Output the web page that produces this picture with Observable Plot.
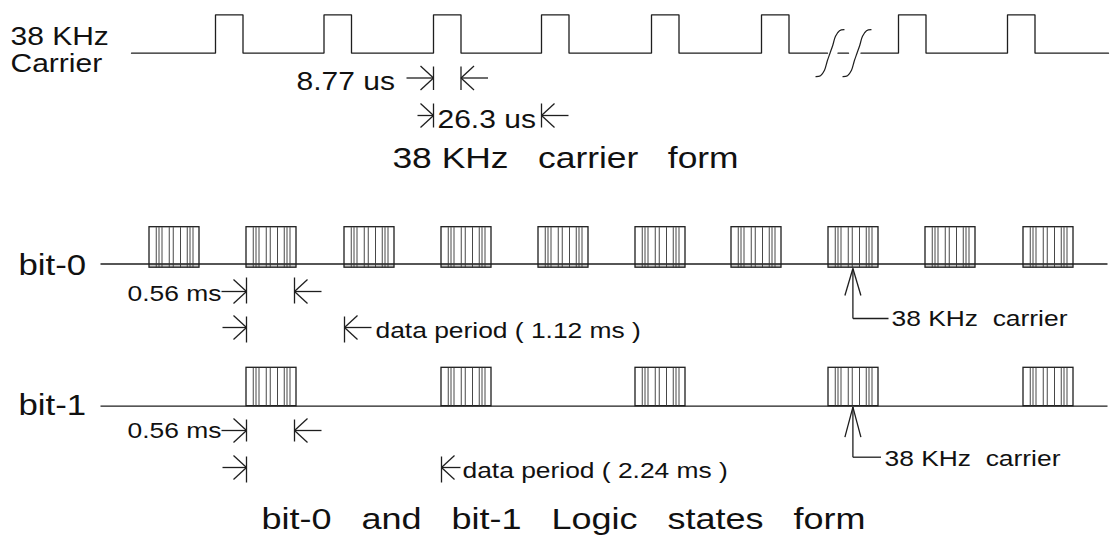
<!DOCTYPE html>
<html><head><meta charset="utf-8">
<script src="https://cdn.jsdelivr.net/npm/d3@7"></script>
<script src="https://cdn.jsdelivr.net/npm/@observablehq/plot@0.6"></script>
<style>html,body{margin:0;padding:0;background:#fff}</style>
</head><body><div id="chart"></div>
<script>
// ---------------- data (diagram time units) ----------------
const carrierRises = [215, 323.5, 433, 541, 651, 761, 898, 1007];
const carrierPulse = 27.5;                 // drawn high time (8.77 us)
const carrierSpan = [131, 1108];
const carrierBreaks = [829.5, 856.5];
const bit0Bursts = [149, 246, 344, 441, 538, 635, 731, 828, 925, 1023];
const bit1Bursts = [246, 441, 635, 828, 1023];
const burstLen = 50;                        // drawn 0.56 ms burst
const burstStripes = [0.135, 0.19, 0.25, 0.395, 0.475, 0.62, 0.755, 0.81, 0.87];
const rowSpan = [100, 1107];
const rowLabels = ["38 KHz", "Carrier"];
const bitLabels = ["bit-0", "bit-1"];
const dimLabels = ["8.77 us", "26.3 us", "0.56 ms", "data period ( 1.12 ms )", "0.56 ms", "data period ( 2.24 ms )"];
const noteLabels = ["38 KHz  carrier", "38 KHz  carrier"];
const titleTop = "38 KHz   carrier   form";
const titleBottom = "bit-0   and   bit-1   Logic   states   form";

// ---------------- layout ----------------
const ink = "#1e1e1e", SW = 1.3, FONT = "Liberation Sans, Arial, Helvetica, sans-serif";
const cLow = 52.7, cHigh = 14.3;
const r0 = {base: 263.5, top: 226.7, bottom: 267.2};
const r1 = {base: 405.7, top: 367.3, bottom: 405.7};

// carrier waveform, split around the break mark
const segs = [[carrierSpan[0], carrierBreaks[0] - 2.5], [carrierBreaks[0] + 8, carrierBreaks[1] - 8.5], [carrierBreaks[1] + 4, carrierSpan[1]]];
const wave = [];
segs.forEach(([a, b], k) => {
  wave.push({x: a, y: cLow, k});
  carrierRises.filter(r => r > a && r + carrierPulse < b).forEach(r => {
    wave.push({x: r, y: cLow, k}, {x: r, y: cHigh, k}, {x: r + carrierPulse, y: cHigh, k}, {x: r + carrierPulse, y: cLow, k});
  });
  wave.push({x: b, y: cLow, k});
});
// break "S" marks
const sShape = [[-14, 23.5], [-9.5, 22.5], [-5.5, 17], [-2.8, 8], [0, 0], [2.8, -8], [5.5, -17], [9.5, -22.5], [14, -23.5]];
const breaks = carrierBreaks.flatMap((c, k) => sShape.map(([dx, dy]) => ({x: c + dx, y: cLow + dy, k})));

// bursts
const bursts = [
  ...bit0Bursts.map(s => ({x1: s, x2: s + burstLen, y1: r0.top, y2: r0.bottom, base: r0.base})),
  ...bit1Bursts.map(s => ({x1: s, x2: s + burstLen, y1: r1.top, y2: r1.bottom, base: r1.base}))
];
const stripes = bursts.flatMap(b => burstStripes.map(f => ({x: b.x1 + f * burstLen, y1: b.y1, y2: b.y2})));
const strips = bursts.filter(b => b.y2 > b.base + 1);

// dimension markers: bar x, arrow y, bar extent, direction (+1 arrow from left, -1 from right)
const TAIL = 27, HX = 13, HY = 12;
const dims = [
  {x: carrierRises[2], y: 77.5, b1: 66, b2: 89.5, d: 1},
  {x: carrierRises[2] + carrierPulse, y: 77.5, b1: 66, b2: 89.5, d: -1},
  {x: carrierRises[2], y: 115, b1: 103, b2: 127, d: 1, tail: 16},
  {x: carrierRises[3], y: 115, b1: 103, b2: 127, d: -1},
  {x: bit0Bursts[1], y: 291, b1: 277, b2: 303, d: 1, tail: 25},
  {x: bit0Bursts[1] + burstLen - 2, y: 291, b1: 277, b2: 303, d: -1},
  {x: bit0Bursts[1], y: 327, b1: 316, b2: 342, d: 1, tail: 24},
  {x: bit0Bursts[2], y: 327, b1: 316, b2: 342, d: -1},
  {x: bit1Bursts[0], y: 430, b1: 419, b2: 441, d: 1, tail: 25},
  {x: bit1Bursts[0] + burstLen - 2, y: 430, b1: 419, b2: 441, d: -1},
  {x: bit1Bursts[0], y: 467, b1: 456, b2: 482, d: 1, tail: 24},
  {x: bit1Bursts[1], y: 467, b1: 456, b2: 482, d: -1, tail: 19}
];
const dimSegs = dims.flatMap(m => {
  const t = m.tail ?? TAIL;
  return [
    {x1: m.x - m.d * t, y1: m.y, x2: m.x, y2: m.y},
    {x1: m.x - m.d * HX, y1: m.y - HY, x2: m.x, y2: m.y},
    {x1: m.x - m.d * HX, y1: m.y + HY, x2: m.x, y2: m.y},
    {x1: m.x, y1: m.b1, x2: m.x, y2: m.b2}
  ];
});
// leader arrows "38 KHz carrier"
const leaders = [
  {x: bit0Bursts[7] + 24.4, tip: 268, wing: 295, y: 318, end: 888},
  {x: bit1Bursts[3] + 24.4, tip: 406.7, wing: 436.7, y: 456.7, end: 880.5}
];
const leadSegs = leaders.flatMap(l => [
  {x1: l.x - 8, y1: l.wing, x2: l.x, y2: l.tip},
  {x1: l.x + 8, y1: l.wing, x2: l.x, y2: l.tip},
  {x1: l.x, y1: l.tip, x2: l.x, y2: l.y},
  {x1: l.x, y1: l.y, x2: l.end, y2: l.y}
]);
const rowLines = [r0.base, r1.base].map(y => ({x1: rowSpan[0], x2: rowSpan[1], y1: y, y2: y}));

// texts (x, baseline y, size, anchor)
const nb = s => s.replace(/ /g, "\u00a0");
const texts = [
  {t: rowLabels[0], x: 10, y: 44, s: 25, a: "start"},
  {t: rowLabels[1], x: 10, y: 71, s: 25, a: "start"},
  {t: dimLabels[0], x: 296, y: 89.5, s: 25, a: "start"},
  {t: dimLabels[1], x: 437, y: 127, s: 25, a: "start"},
  {t: titleTop, x: 565, y: 167, s: 29.5, a: "middle"},
  {t: bitLabels[0], x: 18, y: 274.5, s: 29, a: "start"},
  {t: dimLabels[2], x: 127, y: 300, s: 22, a: "start"},
  {t: dimLabels[3], x: 375, y: 337, s: 22, a: "start"},
  {t: noteLabels[0], x: 891, y: 325, s: 22, a: "start"},
  {t: bitLabels[1], x: 18, y: 414, s: 29, a: "start"},
  {t: dimLabels[4], x: 127, y: 437, s: 22, a: "start"},
  {t: dimLabels[5], x: 462, y: 477, s: 22, a: "start"},
  {t: noteLabels[1], x: 884, y: 465, s: 22, a: "start"},
  {t: titleBottom, x: 563, y: 528.5, s: 30, a: "middle"}
].map(d => ({...d, t: nb(d.t)}));

const textMarks = d3.groups(texts, d => d.s + d.a).map(([, g]) =>
  Plot.text(g, {x: "x", y: "y", text: "t", fontSize: g[0].s, textAnchor: g[0].a, lineAnchor: "bottom", fill: "#111", fontFamily: FONT}));

const chart = Plot.plot({
  width: 1111, height: 544, margin: 0,
  x: {domain: [0, 1111], range: [0, 1111], axis: null},
  y: {domain: [0, 544], range: [0, 544], axis: null},
  style: {background: "#fff"},
  marks: [
    Plot.rect(strips, {x1: "x1", x2: "x2", y1: "base", y2: "y2", fill: "#c8c8c8"}),
    Plot.line(wave, {x: "x", y: "y", z: "k", stroke: ink, strokeWidth: SW, strokeLinejoin: "miter"}),
    Plot.line(breaks, {x: "x", y: "y", z: "k", stroke: ink, strokeWidth: 1.2, curve: "catmull-rom"}),
    Plot.link(rowLines, {x1: "x1", x2: "x2", y1: "y1", y2: "y2", stroke: ink, strokeWidth: SW}),
    Plot.rect(bursts, {x1: "x1", x2: "x2", y1: "y1", y2: "y2", stroke: ink, strokeWidth: SW, fill: "none"}),
    Plot.link(stripes, {x1: "x", x2: "x", y1: "y1", y2: "y2", stroke: "#333", strokeWidth: 0.9}),
    Plot.link(dimSegs, {x1: "x1", x2: "x2", y1: "y1", y2: "y2", stroke: ink, strokeWidth: SW}),
    Plot.link(leadSegs, {x1: "x1", x2: "x2", y1: "y1", y2: "y2", stroke: ink, strokeWidth: SW}),
    ...textMarks
  ]
});
document.getElementById("chart").append(chart);
// the source artwork's lettering is horizontally widened: stretch each text 1.2x about its anchor
d3.select(chart).selectAll("text").each(function () {
  const t = this.getAttribute("transform") || "";
  this.setAttribute("transform", t + " scale(1.2,1)");
});
</script>
</body></html>
